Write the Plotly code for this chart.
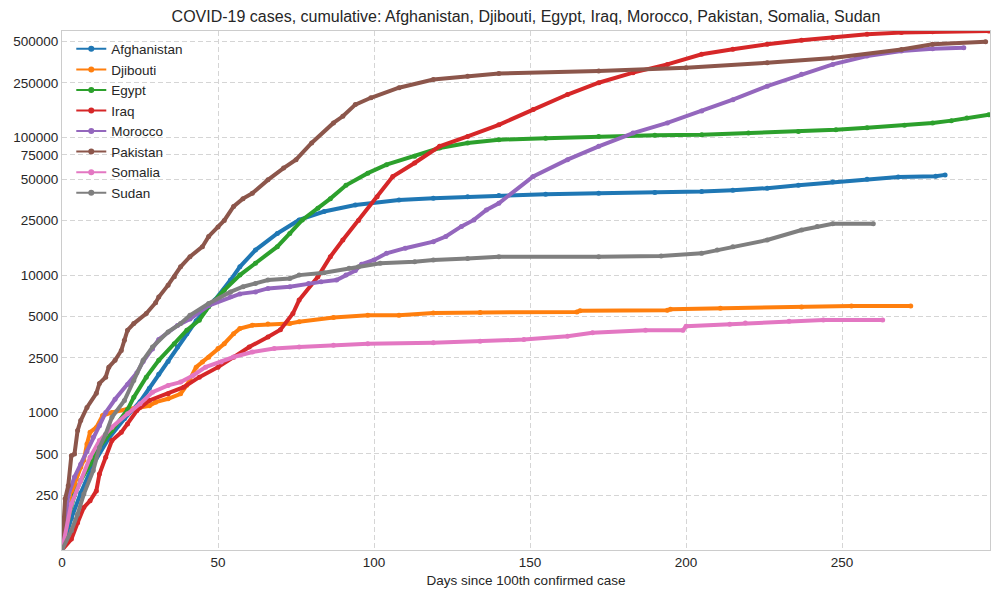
import numpy as np
import plotly.graph_objects as go

# Cumulative cases (days since 100th case)
countries = ['Afghanistan', 'Djibouti', 'Egypt', 'Iraq', 'Morocco', 'Pakistan', 'Somalia', 'Sudan']
colors = ['#1f77b4', '#ff7f0e', '#2ca02c', '#d62728', '#9467bd', '#8c564b', '#e377c2', '#7f7f7f']

afghanistan_days = [0, 3, 6, 10, 15, 20, 25, 28, 31, 34, 37, 40, 43, 46, 49, 54, 57, 62, 69, 76,
                    84, 94, 108, 119, 130, 140, 155, 172, 190, 205, 215, 226, 236, 247, 258, 268, 280, 283]
afghanistan_cases = [100, 170, 260, 420, 650, 900, 1200, 1500, 1900, 2350, 3000, 3750, 4650, 5600, 6600, 9200, 11500, 15200, 20100, 25200,
                     29000, 32400, 35200, 36300, 37200, 37900, 38700, 39400, 39900, 40600, 41500, 42900, 45000, 47500, 49800, 51800, 52300, 53600]

djibouti_days = [0, 2, 4, 6, 7, 8, 9, 11, 13, 16, 21, 25, 28, 30, 34, 38, 40, 43, 45, 47,
                 50, 52, 55, 57, 61, 66, 73, 76, 87, 98, 108, 119, 134, 165, 166, 194, 195, 211, 237, 253, 272]
djibouti_cases = [100, 180, 300, 400, 450, 590, 720, 780, 950, 1000, 1060, 1090, 1120, 1190, 1260, 1370, 1580, 2140, 2330, 2530,
                  2920, 3170, 3750, 4080, 4320, 4400, 4440, 4570, 4910, 5100, 5100, 5310, 5350, 5400, 5500, 5550, 5650, 5750, 5850, 5950, 5950]

egypt_days = [0, 2, 4, 6, 9, 12, 16, 21, 23, 27, 31, 36, 40, 44, 47, 52, 57, 62, 69, 73,
              77, 82, 86, 91, 98, 104, 113, 121, 130, 140, 155, 172, 190, 205, 220, 236, 248, 258, 270, 279,
              285, 290, 297]
egypt_cases = [100, 170, 250, 320, 420, 560, 740, 1050, 1290, 1810, 2400, 3170, 3970, 4700, 5880, 7770, 10000, 12200, 16100, 20100,
               25200, 30700, 36000, 45000, 55200, 63600, 73100, 84100, 91500, 96600, 99000, 102000, 104000, 105000, 108000, 111000, 114000, 118000, 123000, 128000,
               133000, 139000, 147000]

iraq_days = [0, 3, 5, 7, 9, 11, 12, 14, 16, 19, 21, 24, 28, 34, 39, 44, 50, 55, 60, 66,
             70, 74, 76, 82, 86, 90, 95, 101, 106, 113, 121, 130, 140, 151, 162, 172, 183, 194, 205, 215,
             226, 237, 247, 258, 269, 279, 297]
iraq_cases = [100, 120, 158, 204, 228, 269, 357, 472, 625, 718, 826, 1034, 1224, 1369, 1530, 1810, 2140, 2530, 3000, 3550,
              4000, 5250, 6580, 9730, 13600, 18000, 25000, 37200, 52200, 65400, 86500, 102000, 124000, 160000, 206000, 251000, 297000, 341000, 404000, 439000,
              478000, 511000, 534000, 565000, 581000, 590000, 597000]

morocco_days = [0, 2, 4, 6, 8, 10, 12, 14, 17, 21, 24, 26, 29, 31, 37, 41, 47, 54, 57, 62,
                66, 73, 79, 83, 88, 91, 94, 96, 100, 104, 110, 119, 123, 128, 132, 136, 140, 151, 162, 172,
                183, 194, 205, 215, 226, 237, 247, 258, 269, 279, 289]
morocco_cases = [100, 250, 340, 420, 520, 660, 800, 1000, 1250, 1600, 1950, 2350, 2900, 3400, 4300, 4800, 6000, 6950, 7300, 7550,
                 8000, 8230, 8690, 8930, 9200, 10000, 10800, 12000, 12900, 14400, 15700, 17500, 19100, 22600, 25200, 29800, 33300, 52200, 69200, 86500,
                 108000, 128000, 156000, 189000, 237000, 289000, 341000, 393000, 427000, 444000, 451000]

pakistan_days = [0, 1, 2, 3, 4, 5, 6, 8, 11, 12, 14, 15, 17, 19, 20, 21, 23, 27, 30, 31,
                 34, 36, 38, 41, 45, 47, 50, 52, 55, 58, 61, 66, 71, 75, 80, 87, 90, 94, 99, 108,
                 119, 130, 140, 172, 200, 226, 247, 269, 279, 296]
pakistan_cases = [100, 236, 293, 485, 500, 740, 875, 1090, 1380, 1630, 1810, 2140, 2400, 2830, 3360, 3970, 4440, 5250, 6300, 6920,
                  8450, 9730, 11500, 13600, 16100, 19100, 22400, 25000, 31600, 36000, 39400, 49300, 60100, 69200, 91500, 128000, 143000, 174000, 195000, 231000,
                  265000, 280000, 293000, 305000, 323000, 351000, 380000, 438000, 478000, 499000]

somalia_days = [0, 3, 6, 9, 12, 16, 21, 25, 29, 34, 38, 42, 46, 51, 55, 61, 68, 76, 87, 98,
                119, 134, 148, 162, 170, 187, 199, 200, 214, 219, 233, 244, 263]
somalia_cases = [100, 216, 319, 472, 625, 782, 979, 1157, 1406, 1575, 1665, 1862, 2140, 2330, 2535, 2755, 2920, 3000, 3085, 3170,
                 3225, 3300, 3395, 3590, 3800, 3970, 3970, 4250, 4390, 4490, 4620, 4720, 4720]

sudan_days = [0, 3, 5, 7, 10, 12, 14, 16, 20, 23, 26, 29, 34, 38, 41, 47, 54, 58, 62, 66,
              73, 76, 84, 92, 95, 102, 113, 119, 130, 140, 172, 192, 205, 210, 215, 226, 237, 242, 247, 260]
sudan_cases = [100, 138, 182, 255, 378, 558, 698, 925, 1224, 1714, 2400, 3000, 3860, 4440, 5100, 6210, 7550, 8230, 8690, 9200,
               9460, 10000, 10400, 11200, 11500, 12200, 12500, 12900, 13200, 13600, 13600, 13800, 14400, 15200, 16100, 18000, 21300, 22600, 23600, 23600]

series = [
    (afghanistan_days, afghanistan_cases),
    (djibouti_days, djibouti_cases),
    (egypt_days, egypt_cases),
    (iraq_days, iraq_cases),
    (morocco_days, morocco_cases),
    (pakistan_days, pakistan_cases),
    (somalia_days, somalia_cases),
    (sudan_days, sudan_cases),
]

y_ticks = [250, 500, 1000, 2500, 5000, 10000, 25000, 50000, 75000, 100000, 250000, 500000]
x_ticks = [0, 50, 100, 150, 200, 250]

fig = go.Figure()
for name, color, (days, cases) in zip(countries, colors, series):
    # thick data line (daily markers in the original blend into a wide stroke)
    fig.add_trace(go.Scatter(x=days, y=cases, mode='lines+markers', name=name,
                             legendgroup=name, showlegend=False,
                             line=dict(color=color, width=4),
                             marker=dict(color=color, size=5)))
    # legend entry only
    fig.add_trace(go.Scatter(x=[None], y=[None], mode='lines+markers', name=name,
                             legendgroup=name,
                             line=dict(color=color, width=2),
                             marker=dict(color=color, size=6)))

x_max = max(max(d) for d, _ in series) + 0.4
y_max = max(max(c) for _, c in series)

# the page body has an 8px margin, so the figure is a bit smaller than the window
font_family = 'Liberation Sans, Arial, sans-serif'
fig.update_layout(
    width=985, height=582,
    margin=dict(l=54, r=3, t=23, b=40),
    paper_bgcolor='white', plot_bgcolor='white',
    font=dict(family=font_family, size=13.5, color='#262626'),
    title=dict(text='COVID-19 cases, cumulative: Afghanistan, Djibouti, Egypt, Iraq, Morocco, Pakistan, Somalia, Sudan',
               x=0.5, xref='paper', y=1 - 3 / 582, yref='container', yanchor='top',
               pad=dict(t=0, b=0),
               font=dict(size=16, color='#262626')),
    legend=dict(x=0.01, y=0.995, xanchor='left', yanchor='top', bgcolor='rgba(0,0,0,0)',
                tracegroupgap=0, font=dict(size=13.5, color='#262626')),
    showlegend=True,
)
fig.update_xaxes(range=[0, x_max], tickvals=x_ticks, showgrid=True, gridcolor='#d5d5d5',
                 griddash='5px,3px', gridwidth=1, zeroline=False, showline=True, linecolor='#cccccc',
                 mirror=True, ticks='', title=dict(text='Days since 100th confirmed case', standoff=6,
                                                   font=dict(size=13.5)))
fig.update_yaxes(type='log', range=[np.log10(100), np.log10(y_max)], tickvals=y_ticks,
                 ticktext=[str(v) for v in y_ticks], showgrid=True, gridcolor='#d5d5d5',
                 griddash='5px,3px', gridwidth=1, zeroline=False, showline=True, linecolor='#cccccc',
                 mirror=True, ticks='')

fig.write_html("out.html")
